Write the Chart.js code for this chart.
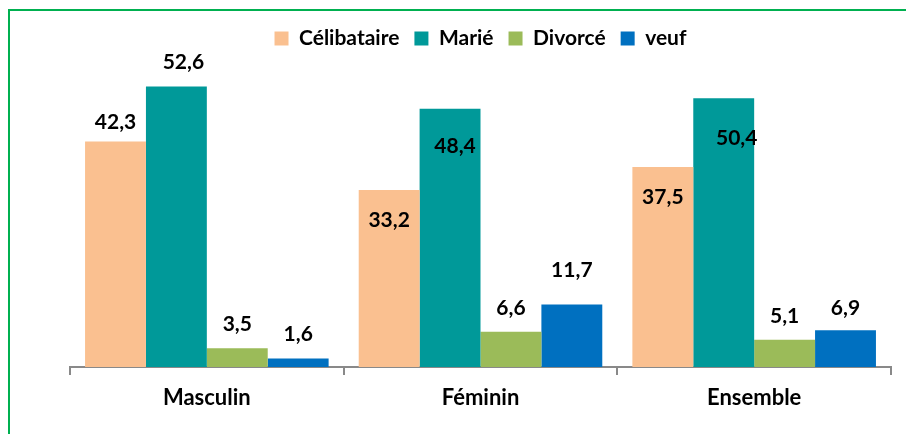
<!DOCTYPE html>
<html>
<head>
<meta charset="utf-8">
<script src="https://cdn.jsdelivr.net/npm/chart.js@4.4.0/dist/chart.umd.min.js"></script>
<style>
  html, body { margin: 0; padding: 0; background: #fff; overflow: hidden; }
  #wrap { position: relative; width: 906px; height: 434px; overflow: hidden; }
  #frame { position: absolute; left: 8px; top: 9px; width: 940px; height: 470px; border: 2px solid #00B050; box-sizing: border-box; }
  #chart { position: absolute; left: 0; top: 0; }
</style>
</head>
<body>
<div id="wrap">
  <div id="frame"></div>
  <canvas id="chart" width="906" height="434"></canvas>
</div>
<script>
const categories = ['Masculin', 'Féminin', 'Ensemble'];
const seriesNames = ['Célibataire', 'Marié', 'Divorcé', 'veuf'];
const celibataire = [42.3, 33.2, 37.5];
const marie = [52.6, 48.4, 50.4];
const divorce = [3.5, 6.6, 5.1];
const veuf = [1.6, 11.7, 6.9];

const colors = ['#FAC090', '#009999', '#9BBB59', '#0070C0'];
// label position relative to bar top [dx, dy]
const labelOffsets = [
  [[0, -19], [0, 30], [0, 30]],
  [[7, -24], [5, 37], [13, 40]],
  [[0, -24], [0, -24], [0, -24]],
  [[0, -24], [0, -34], [0, -22]]
];

const fontFamily = 'Lato, "Open Sans", sans-serif';

const valueLabels = {
  id: 'valueLabels',
  afterDatasetsDraw(chart) {
    const ctx = chart.ctx;
    ctx.save();
    ctx.font = 'bold 21px ' + fontFamily;
    ctx.fillStyle = '#000';
    ctx.textAlign = 'center';
    ctx.textBaseline = 'middle';
    chart.data.datasets.forEach((ds, i) => {
      const meta = chart.getDatasetMeta(i);
      meta.data.forEach((bar, j) => {
        const off = labelOffsets[i][j];
        const txt = ds.data[j].toFixed(1).replace('.', ',');
        ctx.fillText(txt, bar.x + off[0], bar.y + off[1]);
      });
    });
    ctx.restore();
  }
};

// fixed legend height so the plot area starts where the original does
const legendHeight = {
  id: 'legendHeight',
  beforeInit(chart) {
    const fit = chart.legend.fit;
    chart.legend.fit = function() {
      fit.call(this);
      this.height = 34;
    };
  }
};

const data = {
  labels: categories,
  datasets: [celibataire, marie, divorce, veuf].map((vals, i) => ({
    label: seriesNames[i],
    data: vals,
    backgroundColor: colors[i],
    categoryPercentage: 0.89,
    barPercentage: 1.0
  }))
};

new Chart(document.getElementById('chart').getContext('2d'), {
  type: 'bar',
  data: data,
  plugins: [valueLabels, legendHeight],
  options: {
    responsive: false,
    animation: false,
    layout: { padding: { left: 70, right: 15, top: 13, bottom: 27 } },
    plugins: {
      tooltip: { enabled: false },
      legend: {
        display: true,
        position: 'top',
        labels: {
          boxWidth: 14,
          boxHeight: 14,
          padding: 15,
          color: '#000',
          font: { family: fontFamily, size: 21, weight: 'bold' }
        }
      }
    },
    scales: {
      x: {
        afterFit(scale) { scale.height = 40; },
        grid: {
          display: true,
          offset: true,
          drawOnChartArea: false,
          drawTicks: true,
          tickLength: 8,
          color: '#898989',
          lineWidth: 2
        },
        border: { display: true, color: '#898989', width: 2 },
        ticks: {
          color: '#000',
          padding: 10,
          font: { family: fontFamily, size: 22, weight: 'bold' }
        }
      },
      y: {
        display: false,
        min: 0,
        max: 60
      }
    }
  }
});
</script>
</body>
</html>
